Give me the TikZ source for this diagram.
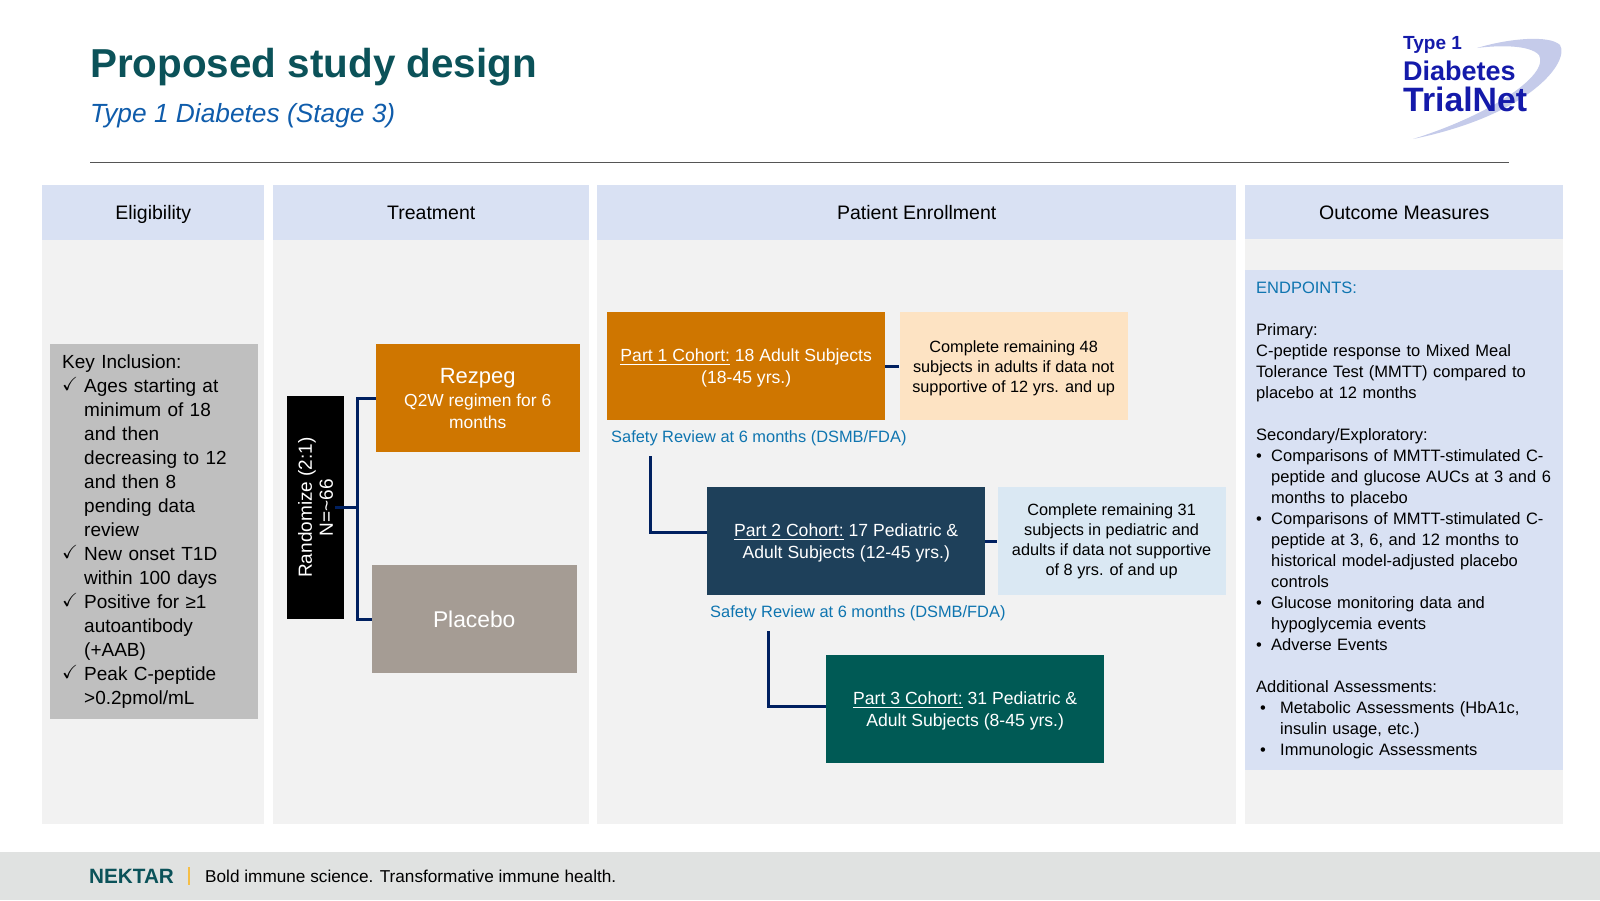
\documentclass[tikz,border=0pt]{standalone}
\usepackage{amssymb}
\usepackage{fontspec}
\setmainfont{Liberation Sans}
\usepackage{xcolor}
\definecolor{teal-900}{RGB}{11,82,89}
\definecolor{blue-700}{RGB}{15,92,171}
\definecolor{blue-600}{RGB}{15,117,176}
\definecolor{blue-100}{RGB}{217,225,243}
\definecolor{gray-100}{RGB}{242,242,242}
\definecolor{gray-300}{RGB}{191,191,191}
\definecolor{gray-600}{RGB}{85,85,85}
\definecolor{foot-gray}{RGB}{224,226,225}
\definecolor{orange-700}{RGB}{207,118,0}
\definecolor{orange-100}{RGB}{253,227,195}
\definecolor{taupe-500}{RGB}{165,156,148}
\definecolor{navy-800}{RGB}{30,64,90}
\definecolor{sky-100}{RGB}{218,232,243}
\definecolor{green-900}{RGB}{0,90,85}
\definecolor{link-900}{RGB}{0,32,96}
\definecolor{logo-blue}{RGB}{20,26,170}
\definecolor{logo-swoosh}{RGB}{197,203,234}
\definecolor{gold-500}{RGB}{245,190,70}
\usepackage{tikz}
\usetikzlibrary{positioning}

\newcommand{\chk}{\makebox[22pt][l]{\raisebox{2pt}{$\checkmark$}}}
\newcommand{\cont}{\hspace*{22pt}}
\newcommand{\bul}[1]{\makebox[#1][l]{\textbullet}}
\newcommand{\lift}{\rule{0pt}{16pt}}

\begin{document}
\begin{tikzpicture}[
    x=1pt, y=-1pt,
    size/.style 2 args={minimum width=#1pt, minimum height=#2pt},
    box/.style={fill=#1, inner sep=2pt, align=center, anchor=north west},
    header/.style={box=blue-100, text=black, text height=14pt, text depth=0pt, font=\fontsize{19.5}{24}\selectfont},
    arm/.style={box=#1, size={278}{108}, text=white, font=\fontsize{17.6}{22}\selectfont},
    note/.style={box=#1, size={228}{108}, text=black, font=\fontsize{16.3}{20}\selectfont},
    safety/.style={text=blue-600, inner sep=0pt, anchor=west, font=\fontsize{16.4}{20}\selectfont},
    link/.style={draw=link-900, line width=3pt}
]
\useasboundingbox (0,0) rectangle (1600,900);

% Title
\node[anchor=west, inner sep=0pt, text=teal-900, font=\fontsize{40.4}{50}\selectfont\bfseries] (title) at (90,67) {Proposed study design};
\node[anchor=west, inner sep=0pt, text=blue-700, font=\fontsize{26.3}{32}\selectfont\itshape] (subtitle) at (90,116) {Type 1 Diabetes (Stage 3)};
\draw[gray-600, line width=1pt] (90,162) -- (1509,162);

% Logo
\fill[logo-swoosh] (1477,48) .. controls (1510,38) and (1550,35) .. (1560,45)
    .. controls (1570,62) and (1530,115) .. (1413,139)
    .. controls (1490,115) and (1550,75) .. (1539,55)
    .. controls (1530,45) and (1500,45) .. (1477,48) -- cycle;
\node[anchor=west, inner sep=0pt, text=logo-blue, font=\fontsize{19}{22}\selectfont\bfseries] (logo1) at (1403,45) {Type 1};
\node[anchor=west, inner sep=0pt, text=logo-blue, font=\fontsize{27}{28}\selectfont\bfseries] (logo2) at (1403,71) {Diabetes};
\node[anchor=west, inner sep=0pt, text=logo-blue, font=\fontsize{33.8}{34}\selectfont\bfseries] (logo3) at (1403,99) {TrialNet};

% Column 1 - Eligibility
\node[box=gray-100, size={222}{585}] (eligpanel) at (42,239) {};
\node[header, size={222}{55}] (eligibility) at (42,185) {Eligibility};
\node[box=gray-300, size={208}{375}, align=left, font=\fontsize{19}{24}\selectfont, inner xsep=12pt, inner ysep=10pt, text width=184pt] (inclusion) at (50,344) {%
Key Inclusion:\\
\chk Ages starting at\\
\cont minimum of 18\\
\cont and then\\
\cont decreasing to 12\\
\cont and then 8\\
\cont pending data\\
\cont review\\
\chk New onset T1D\\
\cont within 100 days\\
\chk Positive for ≥1\\
\cont autoantibody\\
\cont (+AAB)\\
\chk Peak C-peptide\\
\cont >0.2pmol/mL
};

% Column 2 - Treatment
\node[box=gray-100, size={316}{585}] (treatpanel) at (273,239) {};
\node[header, size={316}{55}] (treatment) at (273,185) {Treatment};
\node[box=black, rotate=90, anchor=center, size={223}{57}, text=white, font=\fontsize{19}{21}\selectfont] (randomize) at (315.5,507.5) {Randomize (2:1)\\N=\textasciitilde66};
\node[box=orange-700, size={204}{108}, text=white, font=\fontsize{17.4}{22}\selectfont] (rezpeg) at (375.5,344) {%
{\fontsize{22}{26}\selectfont Rezpeg}\\[1pt]
Q2W regimen for 6\\months};
\node[box=taupe-500, size={205}{108}, text=white, font=\fontsize{22.8}{26}\selectfont] (placebo) at (371.5,565) {Placebo};

% Randomize -> arms
\coordinate (randout) at (335,507);
\coordinate (fork) at (357,507);
\draw[link] (randout) -- (fork);
\draw[link] (rezpeg.west) -| (fork);
\draw[link] (placebo.west) -| (fork);

% Column 3 - Patient Enrollment
\node[box=gray-100, size={639}{585}] (enrollpanel) at (597,239) {};
\node[header, size={639}{55}] (enrollment) at (597,185) {Patient Enrollment};

% Part 1 Cohort
\node[arm=orange-700] (part1) at (607,312) {\lift\underline{Part 1 Cohort:} 18 Adult Subjects\\(18-45 yrs.)};
\node[note=orange-100, right=14pt of part1] (complete1) {\lift Complete remaining 48\\subjects in adults if data not\\supportive of 12 yrs. and up};
\draw[link] (part1.east) -- (complete1.west);
\node[safety] (safety1) at (611,438) {Safety Review at 6 months (DSMB/FDA)};

% Part 2 Cohort
\node[arm=navy-800] (part2) at (707,487) {\lift\underline{Part 2 Cohort:} 17 Pediatric \&\\Adult Subjects (12-45 yrs.)};
\node[note=sky-100, right=12pt of part2] (complete2) {Complete remaining 31\\subjects in pediatric and\\adults if data not supportive\\of 8 yrs. of and up};
\draw[link] (part2.east) -- (complete2.west);
\node[safety] (safety2) at (710,613) {Safety Review at 6 months (DSMB/FDA)};

% Safety review -> next cohort
\coordinate (gate1) at (650,456);
\draw[link] (gate1) |- ([yshift=9pt]part2.west);

% Part 3 Cohort
\node[arm=green-900] (part3) at (826,655) {\lift\underline{Part 3 Cohort:} 31 Pediatric \&\\Adult Subjects (8-45 yrs.)};
\coordinate (gate2) at (768.5,631);
\draw[link] (gate2) |- ([yshift=3pt]part3.west);

% Column 4 - Outcome Measures
\node[box=gray-100, size={318}{585}] (outcomepanel) at (1245,239) {};
\node[header, size={318}{54}] (outcome) at (1245,185) {Outcome Measures};
\node[box=blue-100, size={318}{500}, align=left, inner sep=0pt, text width=318pt, font=\fontsize{16.5}{21}\selectfont] (endpoints) at (1245,270) {%
\hspace*{11pt}\textcolor{blue-600}{ENDPOINTS:}\\[21pt]
\hspace*{11pt}Primary:\\
\hspace*{11pt}C-peptide response to Mixed Meal\\
\hspace*{11pt}Tolerance Test (MMTT) compared to\\
\hspace*{11pt}placebo at 12 months\\[21pt]
\hspace*{11pt}Secondary/Exploratory:\\
\hspace*{11pt}\bul{15pt}Comparisons of MMTT-stimulated C-\\
\hspace*{26pt}peptide and glucose AUCs at 3 and 6\\
\hspace*{26pt}months to placebo\\
\hspace*{11pt}\bul{15pt}Comparisons of MMTT-stimulated C-\\
\hspace*{26pt}peptide at 3, 6, and 12 months to\\
\hspace*{26pt}historical model-adjusted placebo\\
\hspace*{26pt}controls\\
\hspace*{11pt}\bul{15pt}Glucose monitoring data and\\
\hspace*{26pt}hypoglycemia events\\
\hspace*{11pt}\bul{15pt}Adverse Events\\[21pt]
\hspace*{11pt}Additional Assessments:\\
\hspace*{15pt}\bul{20pt}Metabolic Assessments (HbA1c,\\
\hspace*{35pt}insulin usage, etc.)\\
\hspace*{15pt}\bul{20pt}Immunologic Assessments
};

% Footer
\node[box=foot-gray, size={1600}{48}, inner sep=0pt] (footer) at (0,852) {};
\node[anchor=west, inner sep=0pt, text=teal-900, font=\fontsize{20.7}{26}\selectfont\bfseries] (nektar) at (89,876) {NEKTAR};
\node[anchor=west, inner sep=0pt, text=black, font=\fontsize{17.2}{20}\selectfont] (tagline) at (205,876.5) {Bold immune science. Transformative immune health.};
\coordinate (barend) at (189,867);
\draw[gold-500, line width=1.5pt] (barend) -- ++(0,18);

\end{tikzpicture}
\end{document}
